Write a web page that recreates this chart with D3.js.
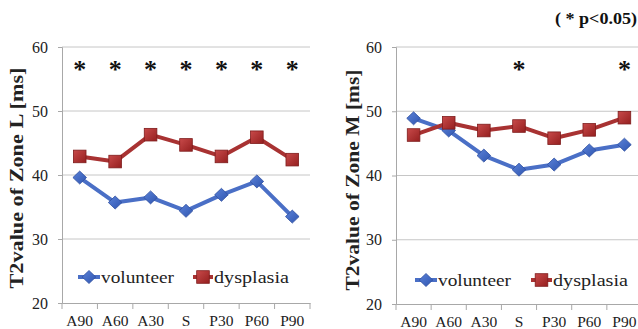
<!DOCTYPE html>
<html>
<head>
<meta charset="utf-8">
<script src="https://cdn.jsdelivr.net/npm/d3@7/dist/d3.min.js"></script>
<style>
  html, body { margin: 0; padding: 0; background: #fff; }
  svg { display: block; }
  svg text { font-family: 'Liberation Serif', 'Tinos', 'Times New Roman', 'DejaVu Serif', serif !important; }
</style>
</head>
<body>
<svg id="chart" width="638" height="329"></svg>
<script>
// ---- Data ----
const categories = ["A90", "A60", "A30", "S", "P30", "P60", "P90"];
const yTicks = [20, 30, 40, 50, 60];
const seriesNames = ["volunteer", "dysplasia"];

const zoneLVolunteer = [39.6, 35.7, 36.5, 34.4, 36.9, 39.0, 33.5];
const zoneLDysplasia = [42.9, 42.1, 46.3, 44.7, 42.9, 45.9, 42.4];
const zoneLSignificant = ["A90", "A60", "A30", "S", "P30", "P60", "P90"];

const zoneMVolunteer = [48.9, 47.0, 43.1, 40.9, 41.7, 43.9, 44.8];
const zoneMDysplasia = [46.3, 48.2, 47.0, 47.7, 45.8, 47.1, 49.0];
const zoneMSignificant = ["S", "P90"];

const starLevel = 57.3;
const noteText = "( * p<0.05)";

const FONT = "'Liberation Serif', 'Tinos', 'Times New Roman', 'DejaVu Serif', serif";

const svg = d3.select("#chart");

const colors = {
  volunteer: { line: "#4a6fc6", fill: "#4267c2", stroke: "#2e4f9f" },
  dysplasia: { line: "#a83232", fill: "#b32f2f", stroke: "#7e1c1c" }
};

const defs = svg.append("defs");
const gR = defs.append("linearGradient").attr("id", "gradR").attr("x1", 0).attr("y1", 0).attr("x2", 1).attr("y2", 1);
gR.append("stop").attr("offset", "0%").attr("stop-color", "#c84a4a");
gR.append("stop").attr("offset", "100%").attr("stop-color", "#951f1f");
const gB = defs.append("linearGradient").attr("id", "gradB").attr("x1", 0).attr("y1", 0).attr("x2", 1).attr("y2", 1);
gB.append("stop").attr("offset", "0%").attr("stop-color", "#5b82d8");
gB.append("stop").attr("offset", "100%").attr("stop-color", "#2f55b0");

function drawMarker(g, name, cx, cy) {
  if (name === "volunteer") {
    g.append("path")
      .attr("d", `M${cx},${cy - 6.5} L${cx + 6.8},${cy} L${cx},${cy + 6.5} L${cx - 6.8},${cy} Z`)
      .attr("fill", "url(#gradB)")
      .attr("stroke", colors.volunteer.stroke)
      .attr("stroke-width", 0.8);
  } else {
    g.append("rect")
      .attr("x", cx - 6.3).attr("y", cy - 6.3)
      .attr("width", 12.6).attr("height", 12.6)
      .attr("fill", "url(#gradR)")
      .attr("stroke", colors.dysplasia.stroke)
      .attr("stroke-width", 0.8);
  }
}

function drawChart(opt) {
  const g = svg.append("g");
  const x = d3.scaleBand().domain(categories).range([opt.x0, opt.x1]);
  const y = d3.scaleLinear().domain([20, 60]).range([opt.yBottom, opt.yTop]);

  g.append("g").selectAll("line").data(yTicks.filter(t => t > 20)).join("line")
    .attr("x1", opt.x0).attr("x2", opt.x1)
    .attr("y1", d => y(d)).attr("y2", d => y(d))
    .attr("stroke", "#c6c6c6").attr("stroke-width", 1);

  const yAxis = g.append("g")
    .attr("transform", `translate(${opt.x0},0)`)
    .call(d3.axisLeft(y).tickValues(yTicks).tickSize(4).tickPadding(10));
  yAxis.attr("font-family", null);
  yAxis.select(".domain").attr("stroke", "#a8a8a8");
  yAxis.selectAll(".tick line").attr("stroke", "#a8a8a8");
  yAxis.selectAll(".tick text")
    .style("font-family", FONT)
    .style("font-size", "16px")
    .attr("fill", "#222");

  const xAxis = g.append("g")
    .attr("transform", `translate(0,${opt.yBottom})`)
    .call(d3.axisBottom(x).tickSize(0).tickPadding(12));
  xAxis.attr("font-family", null);
  xAxis.select(".domain").attr("stroke", "#a8a8a8");
  xAxis.selectAll(".tick text")
    .style("font-family", FONT)
    .style("font-size", "15.5px")
    .attr("fill", "#222");
  const bounds = categories.map(c => x(c)).concat([opt.x1]);
  g.append("g").selectAll("line").data(bounds).join("line")
    .attr("x1", d => d).attr("x2", d => d)
    .attr("y1", opt.yBottom).attr("y2", opt.yBottom + 6)
    .attr("stroke", "#a8a8a8");

  g.append("text")
    .attr("transform", `translate(${opt.labelX},${opt.labelY}) rotate(-90)`)
    .attr("text-anchor", "middle")
    .attr("dominant-baseline", "central")
    .style("font-family", FONT)
    .style("font-weight", "bold")
    .style("font-size", "18px")
    .attr("fill", "#222")
    .attr("textLength", 221)
    .attr("lengthAdjust", "spacingAndGlyphs")
    .text(opt.label);

  const cx = c => x(c) + x.bandwidth() / 2;
  const line = d3.line().x((d, i) => cx(categories[i])).y(d => y(d));
  const series = [["volunteer", opt.volunteer], ["dysplasia", opt.dysplasia]];
  series.forEach(([name, vals]) => {
    g.append("path")
      .datum(vals)
      .attr("d", line)
      .attr("fill", "none")
      .attr("stroke", colors[name].line)
      .attr("stroke-width", 4)
      .attr("stroke-linejoin", "round");
  });
  series.forEach(([name, vals]) => {
    vals.forEach((v, i) => drawMarker(g, name, cx(categories[i]), y(v)));
  });

  g.append("g").selectAll("text").data(opt.significant).join("text")
    .attr("x", d => cx(d))
    .attr("y", y(starLevel) + 14)
    .attr("text-anchor", "middle")
    .style("font-family", FONT)
    .style("font-weight", "bold")
    .style("font-size", "26px")
    .attr("fill", "#111")
    .text("*");

  const L = opt.legend;
  g.append("line").attr("x1", L.v0).attr("x2", L.v1).attr("y1", L.y).attr("y2", L.y)
    .attr("stroke", colors.volunteer.line).attr("stroke-width", 4);
  drawMarker(g, "volunteer", (L.v0 + L.v1) / 2, L.y);
  g.append("text").attr("x", L.v1 + 1).attr("y", L.y + 6)
    .style("font-family", FONT)
    .style("font-size", "17px").attr("fill", "#222")
    .attr("textLength", 73).attr("lengthAdjust", "spacingAndGlyphs")
    .text(seriesNames[0]);
  g.append("line").attr("x1", L.d0).attr("x2", L.d1).attr("y1", L.y).attr("y2", L.y)
    .attr("stroke", colors.dysplasia.line).attr("stroke-width", 4);
  drawMarker(g, "dysplasia", (L.d0 + L.d1) / 2, L.y);
  g.append("text").attr("x", L.d1 + 1).attr("y", L.y + 6)
    .style("font-family", FONT)
    .style("font-size", "17px").attr("fill", "#222")
    .attr("textLength", 75).attr("lengthAdjust", "spacingAndGlyphs")
    .text(seriesNames[1]);
}

drawChart({
  x0: 62, x1: 310, yTop: 47, yBottom: 303,
  labelX: 16.5, labelY: 178,
  label: "T2value of Zone L [ms]",
  volunteer: zoneLVolunteer, dysplasia: zoneLDysplasia,
  significant: zoneLSignificant,
  legend: { y: 277, v0: 78, v1: 100, d0: 193, d1: 213 }
});

drawChart({
  x0: 396, x1: 642, yTop: 47, yBottom: 304,
  labelX: 353, labelY: 180,
  label: "T2value of Zone M [ms]",
  volunteer: zoneMVolunteer, dysplasia: zoneMDysplasia,
  significant: zoneMSignificant,
  legend: { y: 280, v0: 415, v1: 437, d0: 531, d1: 552 }
});

svg.append("text")
  .attr("x", 555).attr("y", 24)
  .style("font-family", FONT)
  .style("font-weight", "bold")
  .style("font-size", "16px")
  .attr("fill", "#111")
  .attr("textLength", 82)
  .attr("lengthAdjust", "spacingAndGlyphs")
  .text(noteText);
</script>
</body>
</html>
